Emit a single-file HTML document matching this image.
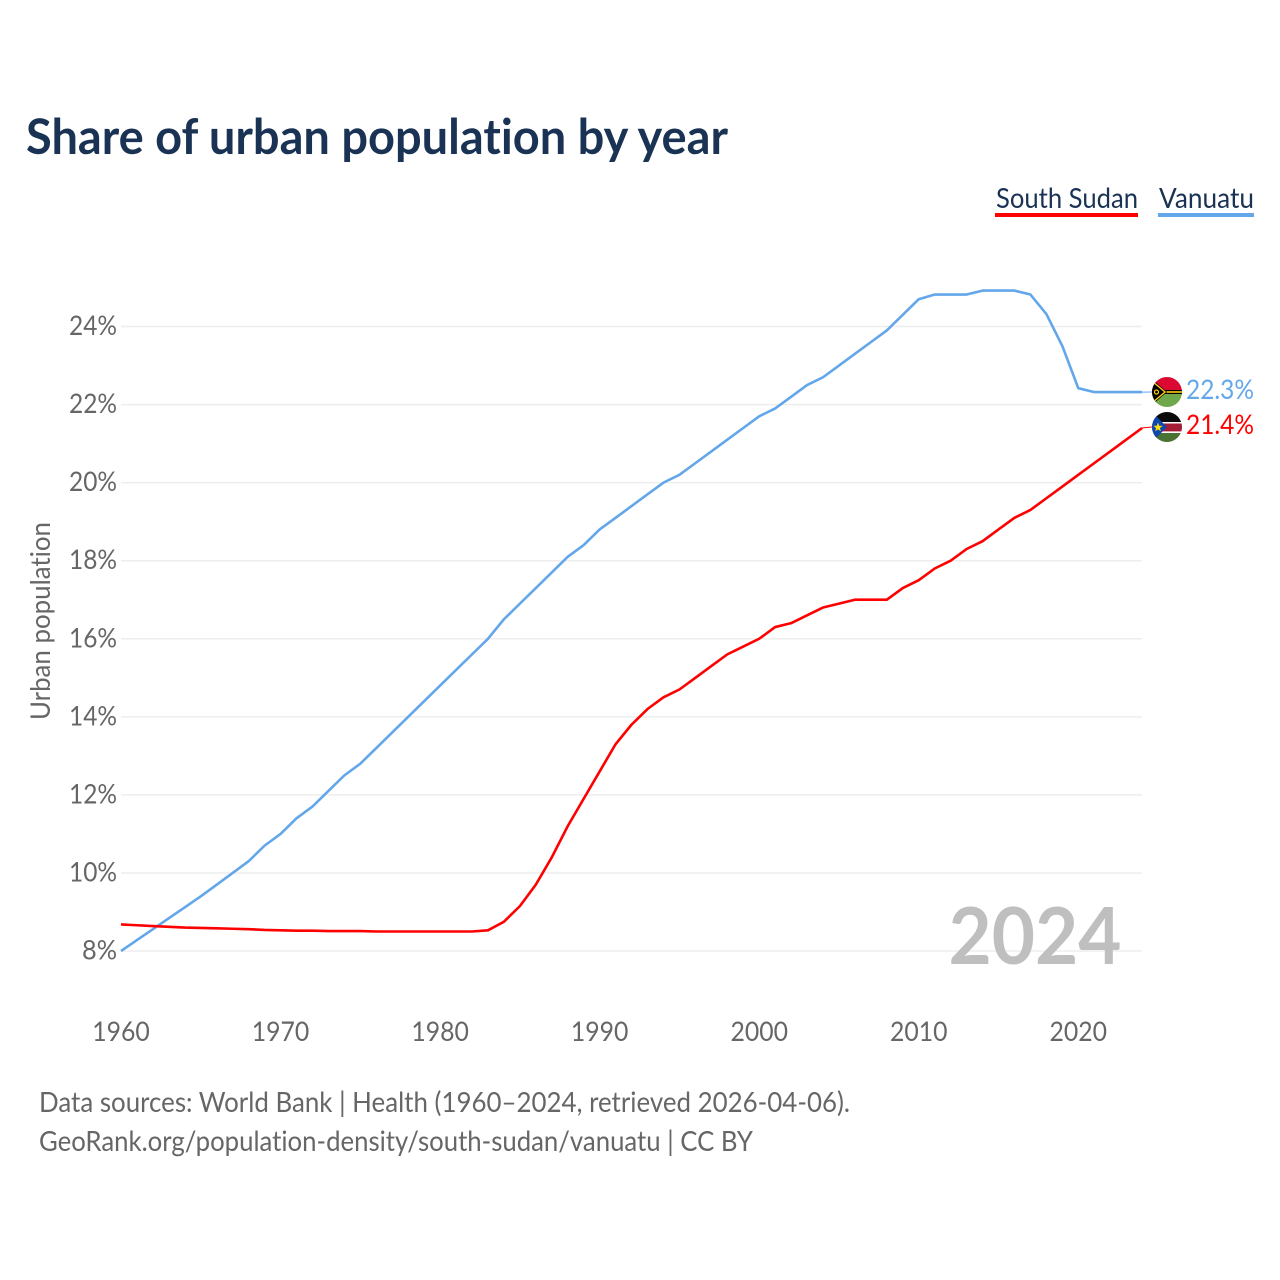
<!DOCTYPE html>
<html lang="en">
<head>
<meta charset="utf-8">
<title>Share of urban population by year</title>
<style>
html,body{margin:0;padding:0;background:#fff;width:1280px;height:1280px;overflow:hidden}
svg{display:block}
text{font-family:"Lato","Carlito","Liberation Sans",sans-serif;font-variant-ligatures:none;font-feature-settings:"liga" 0,"clig" 0}
</style>
</head>
<body>
<svg id="chart" xmlns="http://www.w3.org/2000/svg" width="1280" height="1280" viewBox="0 0 1280 1280">
  <rect x="0" y="0" width="1280" height="1280" fill="#fff"/>
  <text x="26" y="154" font-size="49" font-weight="700" fill="#1a3354" textLength="702" lengthAdjust="spacingAndGlyphs">Share of urban population by year</text>

  <g>
    <text x="996" y="208" font-size="28" fill="#1a3354" textLength="142" lengthAdjust="spacingAndGlyphs">South Sudan</text>
    <rect x="995" y="213" width="143" height="4" fill="#ff0000"/>
  </g>
  <g>
    <text x="1159" y="208" font-size="28" fill="#1a3354" textLength="95" lengthAdjust="spacingAndGlyphs">Vanuatu</text>
    <rect x="1158" y="213" width="96" height="4" fill="#63a7ea"/>
  </g>

  <text transform="translate(50 621) rotate(-90)" text-anchor="middle" font-size="27" fill="#666" textLength="198" lengthAdjust="spacingAndGlyphs">Urban population</text>

  <g id="grid"></g>
  <g id="yticks"></g>
  <g id="xticks"></g>

  <text x="948.5" y="964" font-size="79" font-weight="700" fill="#bfbfbf" textLength="173" lengthAdjust="spacingAndGlyphs">2024</text>

  <g id="series"></g>

  <defs>
    <clipPath id="clip-vu"><circle cx="1167" cy="392" r="15"/></clipPath>
    <clipPath id="clip-ss"><circle cx="1167" cy="427" r="15"/></clipPath>
  </defs>

  <g clip-path="url(#clip-vu)">
    <rect x="1152" y="377" width="30" height="15" fill="#dc0a32"/>
    <rect x="1152" y="392" width="30" height="15" fill="#6fa84a"/>
    <rect x="1152" y="390" width="30" height="4" fill="#000"/>
    <rect x="1160" y="391.2" width="22" height="1.6" fill="#fdce12"/>
    <polygon points="1152,379 1167,392 1152,405" fill="#000"/>
    <polyline points="1152,381 1165,392 1152,403" fill="none" stroke="#fdce12" stroke-width="1.4"/>
    <circle cx="1156.5" cy="392" r="2" fill="none" stroke="#fdce12" stroke-width="1.2"/>
  </g>
  <g clip-path="url(#clip-ss)">
    <rect x="1152" y="412" width="30" height="10" fill="#0a0a0a"/>
    <rect x="1152" y="422" width="30" height="1.6" fill="#fff"/>
    <rect x="1152" y="423.5" width="30" height="8" fill="#a51c36"/>
    <rect x="1152" y="431.4" width="30" height="1.6" fill="#fff"/>
    <rect x="1152" y="433" width="30" height="9" fill="#4a7233"/>
    <polygon points="1152,412 1167,427 1152,442" fill="#0f47af"/>
    <polygon points="1158,422.5 1159.2,425.8 1162.6,425.9 1159.9,428 1160.9,431.3 1158,429.4 1155.2,431.3 1156.1,428 1153.4,425.9 1156.8,425.8" fill="#fcdd09"/>
  </g>

  <text x="1186" y="399" font-size="27" fill="#63a7ea" textLength="68" lengthAdjust="spacingAndGlyphs">22.3%</text>
  <text x="1186" y="434" font-size="27" fill="#ff0000" textLength="68" lengthAdjust="spacingAndGlyphs">21.4%</text>

  <text x="39" y="1112" font-size="28" fill="#666" textLength="811" lengthAdjust="spacingAndGlyphs">Data sources: World Bank | Health (1960–2024, retrieved 2026-04-06).</text>
  <text x="39" y="1151" font-size="28" fill="#666" textLength="714" lengthAdjust="spacingAndGlyphs">GeoRank.org/population-density/south-sudan/vanuatu | CC BY</text>
</svg>
<script>
const firstYear = 1960;
const yTickValues = [8, 10, 12, 14, 16, 18, 20, 22, 24];
const xTickValues = [1960, 1970, 1980, 1990, 2000, 2010, 2020];
const southSudanValues = [
  8.68, 8.66, 8.64, 8.62, 8.60, 8.59, 8.58, 8.57, 8.56, 8.54,
  8.53, 8.52, 8.52, 8.51, 8.51, 8.51, 8.50, 8.50, 8.50, 8.50,
  8.50, 8.50, 8.50, 8.53, 8.75, 9.15, 9.70, 10.4, 11.2, 11.9,
  12.6, 13.3, 13.8, 14.2, 14.5, 14.7, 15.0, 15.3, 15.6, 15.8,
  16.0, 16.3, 16.4, 16.6, 16.8, 16.9, 17.0, 17.0, 17.0, 17.3,
  17.5, 17.8, 18.0, 18.3, 18.5, 18.8, 19.1, 19.3, 19.6, 19.9,
  20.2, 20.5, 20.8, 21.1, 21.4
];
const vanuatuValues = [
  8.0, 8.28, 8.56, 8.84, 9.12, 9.4, 9.7, 10.0, 10.3, 10.7,
  11.0, 11.4, 11.7, 12.1, 12.5, 12.8, 13.2, 13.6, 14.0, 14.4,
  14.8, 15.2, 15.6, 16.0, 16.5, 16.9, 17.3, 17.7, 18.1, 18.4,
  18.8, 19.1, 19.4, 19.7, 20.0, 20.2, 20.5, 20.8, 21.1, 21.4,
  21.7, 21.9, 22.2, 22.5, 22.7, 23.0, 23.3, 23.6, 23.9, 24.3,
  24.7, 24.82, 24.82, 24.82, 24.92, 24.92, 24.92, 24.82, 24.32, 23.5,
  22.42, 22.32, 22.32, 22.32, 22.32
];

const NS = 'http://www.w3.org/2000/svg';
const xScale = function (year) { return 121 + (year - 1960) * 15.955; };
const yScale = function (v) { return 951 - (v - 8) * 39.03; };
const PLOT_LEFT = 121;
const PLOT_RIGHT = 1142;

function make(tag, attrs, parent) {
  const el = document.createElementNS(NS, tag);
  Object.keys(attrs).forEach(function (k) { el.setAttribute(k, attrs[k]); });
  parent.appendChild(el);
  return el;
}

const grid = document.getElementById('grid');
const yticks = document.getElementById('yticks');
const xticks = document.getElementById('xticks');
const series = document.getElementById('series');

yTickValues.forEach(function (v) {
  const line = make('line', { x1: PLOT_LEFT, x2: PLOT_RIGHT, y1: yScale(v), y2: yScale(v), stroke: '#eeeeee', 'stroke-width': 1.5 }, grid);
  
  
  const label = make('text', { x: 117, y: yScale(v) + 8.5, 'text-anchor': 'end', 'font-size': 27, fill: '#666', textLength: 48, lengthAdjust: 'spacingAndGlyphs' }, yticks);
  
  
  label.textContent = v + '%';
  if (v < 10) { label.setAttribute('textLength', 35); }
});

xTickValues.forEach(function (year) {
  const label = make('text', { x: xScale(year), y: 1041, 'text-anchor': 'middle', 'font-size': 27, fill: '#666', textLength: 57.5, lengthAdjust: 'spacingAndGlyphs' }, xticks);
  
  
  label.textContent = year;
});

function drawSeries(values, color, name, leaderY) {
  const pts = values.map(function (v, i) {
    return xScale(firstYear + i).toFixed(2) + ',' + yScale(v).toFixed(2);
  }).join(' ');
  const line = make('polyline', { points: pts, fill: 'none', stroke: color, 'stroke-width': 2.6, 'stroke-linejoin': 'round' }, series);
  
  
  const lastY = yScale(values[values.length - 1]);
  const leader = make('line', { x1: xScale(firstYear + values.length - 1), y1: lastY, x2: 1152, y2: leaderY, stroke: color, 'stroke-width': 1 }, series);
  
  
}

drawSeries(vanuatuValues, '#63a7ea', 'vanuatu', 392);
drawSeries(southSudanValues, '#ff0000', 'south-sudan', 427);
</script>
</body>
</html>
